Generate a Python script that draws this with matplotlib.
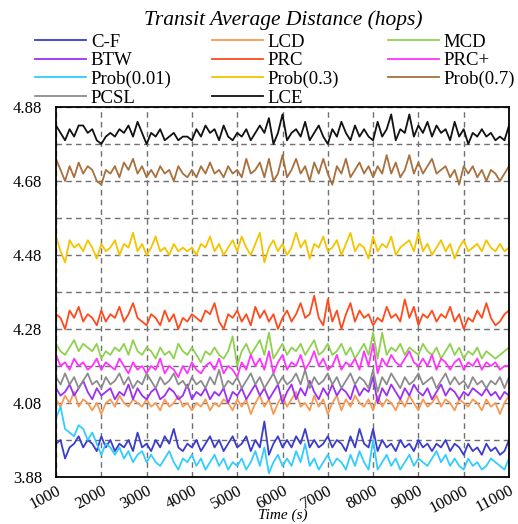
import numpy as np
import matplotlib
matplotlib.use("Agg")
import matplotlib.pyplot as plt

time_s = list(range(1000, 11001, 100))

cf = [3.97,3.98,3.93,3.96,3.97,3.99,3.96,3.98,3.97,3.95,3.99,
 3.96,3.98,3.95,3.97,3.96,3.98,3.95,4.00,3.96,3.97,
 3.95,3.98,3.96,3.99,3.97,4.01,3.96,3.95,3.97,3.96,
 3.98,3.95,3.97,3.99,3.96,3.98,3.95,3.97,3.99,3.96,
 3.97,3.99,3.95,3.98,3.96,4.03,3.94,3.97,3.99,3.96,
 3.98,3.96,3.99,3.97,4.01,3.96,3.98,3.96,3.97,3.99,
 3.96,3.98,3.97,3.95,3.99,3.96,4.01,3.97,3.96,4.01,
 3.95,3.98,3.96,3.97,3.95,3.98,3.96,3.97,3.95,3.98,
 3.96,3.97,3.95,3.97,3.96,3.98,3.95,3.97,3.96,3.94,
 3.97,3.95,3.96,3.94,3.97,3.95,3.96,3.94,3.95,3.98]

lcd = [4.09,4.07,4.10,4.08,4.11,4.07,4.09,4.08,4.06,4.08,4.05,
 4.08,4.09,4.07,4.10,4.08,4.07,4.09,4.08,4.07,4.09,
 4.07,4.08,4.06,4.09,4.07,4.08,4.10,4.07,4.08,4.06,
 4.08,4.07,4.09,4.06,4.08,4.07,4.09,4.08,4.06,4.09,
 4.07,4.09,4.05,4.08,4.10,4.07,4.09,4.05,4.08,4.10,
 4.07,4.09,4.11,4.07,4.08,4.06,4.10,4.07,4.09,4.05,
 4.08,4.10,4.06,4.09,4.07,4.10,4.08,4.07,4.09,4.06,
 4.10,4.07,4.09,4.08,4.06,4.09,4.07,4.10,4.08,4.06,
 4.09,4.07,4.08,4.10,4.07,4.09,4.08,4.06,4.09,4.08,
 4.07,4.09,4.08,4.06,4.09,4.07,4.08,4.05,4.08,4.10]

mcd = [4.24,4.22,4.21,4.23,4.25,4.22,4.24,4.23,4.22,4.24,4.20,
 4.22,4.21,4.23,4.22,4.24,4.21,4.25,4.22,4.21,4.23,
 4.22,4.20,4.23,4.21,4.22,4.20,4.24,4.22,4.21,4.23,
 4.21,4.19,4.22,4.21,4.23,4.21,4.20,4.22,4.26,4.18,
 4.22,4.24,4.21,4.23,4.25,4.21,4.27,4.20,4.22,4.24,
 4.21,4.23,4.22,4.24,4.21,4.23,4.25,4.21,4.22,4.24,
 4.21,4.22,4.24,4.21,4.23,4.20,4.22,4.24,4.21,4.27,
 4.20,4.27,4.21,4.23,4.22,4.24,4.21,4.23,4.22,4.21,
 4.24,4.22,4.21,4.23,4.20,4.22,4.24,4.21,4.23,4.20,
 4.22,4.21,4.23,4.20,4.22,4.21,4.20,4.21,4.22,4.23]

btw = [4.12,4.10,4.11,4.13,4.10,4.12,4.14,4.11,4.09,4.12,4.10,
 4.11,4.12,4.09,4.11,4.10,4.13,4.09,4.12,4.10,4.09,
 4.11,4.12,4.09,4.10,4.12,4.11,4.09,4.10,4.13,4.09,
 4.11,4.10,4.12,4.09,4.11,4.10,4.12,4.08,4.11,4.10,
 4.12,4.09,4.11,4.13,4.10,4.12,4.09,4.11,4.13,4.08,
 4.11,4.13,4.09,4.12,4.10,4.14,4.11,4.09,4.12,4.10,
 4.13,4.10,4.12,4.11,4.09,4.13,4.10,4.12,4.11,4.15,
 4.08,4.12,4.10,4.13,4.11,4.09,4.12,4.10,4.13,4.11,
 4.10,4.12,4.09,4.11,4.13,4.10,4.12,4.11,4.09,4.11,
 4.10,4.12,4.11,4.10,4.12,4.10,4.11,4.09,4.11,4.10]

prc = [4.32,4.31,4.28,4.33,4.31,4.34,4.30,4.32,4.31,4.29,4.33,
 4.30,4.32,4.31,4.34,4.30,4.32,4.35,4.31,4.30,4.29,
 4.32,4.31,4.29,4.33,4.30,4.32,4.28,4.31,4.30,4.32,
 4.31,4.30,4.33,4.32,4.35,4.30,4.28,4.32,4.31,4.33,
 4.30,4.32,4.29,4.34,4.31,4.33,4.30,4.32,4.28,4.31,
 4.33,4.30,4.32,4.35,4.31,4.32,4.37,4.31,4.29,4.36,
 4.30,4.33,4.28,4.32,4.35,4.30,4.33,4.31,4.32,4.29,
 4.31,4.30,4.34,4.31,4.32,4.30,4.36,4.31,4.34,4.29,
 4.32,4.31,4.33,4.30,4.32,4.31,4.34,4.30,4.32,4.28,
 4.31,4.30,4.33,4.31,4.35,4.31,4.29,4.30,4.32,4.33]

prc_plus = [4.21,4.18,4.19,4.17,4.20,4.18,4.19,4.17,4.18,4.20,4.17,
 4.19,4.18,4.17,4.20,4.18,4.16,4.19,4.17,4.18,4.16,
 4.18,4.17,4.20,4.16,4.18,4.17,4.15,4.18,4.16,4.19,
 4.17,4.16,4.18,4.19,4.17,4.20,4.16,4.18,4.17,4.15,
 4.19,4.17,4.21,4.18,4.20,4.17,4.22,4.16,4.19,4.21,
 4.17,4.19,4.18,4.21,4.17,4.19,4.22,4.18,4.20,4.17,
 4.18,4.21,4.17,4.19,4.18,4.20,4.17,4.22,4.18,4.24,
 4.16,4.20,4.18,4.21,4.19,4.18,4.20,4.22,4.19,4.18,
 4.20,4.18,4.21,4.17,4.20,4.19,4.17,4.19,4.20,4.17,
 4.19,4.18,4.20,4.17,4.19,4.18,4.19,4.17,4.18,4.18]

prob001 = [4.04,4.07,4.01,4.00,3.99,4.02,4.01,3.98,4.00,3.97,3.94,
 3.97,3.96,3.94,3.96,3.93,3.95,3.92,3.94,3.95,3.92,
 3.94,3.92,3.91,3.93,3.95,3.92,3.90,3.93,3.92,3.94,
 3.91,3.93,3.90,3.92,3.94,3.91,3.93,3.90,3.92,3.91,
 3.93,3.90,3.92,3.95,3.91,3.96,3.89,3.92,3.94,3.91,
 3.93,3.91,3.95,3.92,3.97,3.91,3.93,3.90,3.92,3.94,
 3.91,3.93,3.92,3.90,3.94,3.91,3.95,3.92,3.90,3.98,
 3.90,3.92,3.94,3.91,3.93,3.90,3.92,3.94,3.91,3.93,
 3.92,3.91,3.93,3.95,3.92,3.94,3.91,3.93,3.91,3.90,
 3.93,3.91,3.92,3.90,3.91,3.93,3.92,3.91,3.90,3.93]

prob03 = [4.53,4.49,4.46,4.52,4.50,4.51,4.49,4.52,4.50,4.47,4.51,
 4.49,4.50,4.52,4.48,4.51,4.50,4.54,4.49,4.51,4.48,
 4.50,4.53,4.49,4.50,4.48,4.51,4.49,4.50,4.49,4.50,
 4.48,4.51,4.50,4.53,4.49,4.51,4.48,4.50,4.52,4.49,
 4.53,4.50,4.48,4.51,4.54,4.46,4.50,4.52,4.49,4.51,
 4.48,4.50,4.54,4.50,4.52,4.47,4.51,4.50,4.53,4.49,
 4.50,4.52,4.48,4.51,4.54,4.49,4.51,4.50,4.47,4.53,
 4.49,4.51,4.50,4.53,4.48,4.50,4.51,4.52,4.49,4.54,
 4.49,4.51,4.48,4.50,4.52,4.49,4.51,4.47,4.50,4.52,
 4.49,4.50,4.51,4.49,4.52,4.50,4.49,4.51,4.49,4.50]

prob07 = [4.74,4.71,4.68,4.72,4.69,4.73,4.70,4.72,4.71,4.68,4.67,
 4.71,4.70,4.72,4.69,4.73,4.71,4.74,4.70,4.72,4.69,
 4.71,4.69,4.72,4.70,4.71,4.68,4.72,4.70,4.69,4.71,
 4.69,4.72,4.70,4.73,4.70,4.71,4.69,4.72,4.70,4.71,
 4.69,4.74,4.70,4.71,4.73,4.69,4.74,4.68,4.70,4.75,
 4.69,4.71,4.74,4.70,4.72,4.68,4.73,4.70,4.74,4.70,
 4.67,4.72,4.70,4.74,4.69,4.71,4.73,4.70,4.72,4.69,
 4.72,4.70,4.75,4.70,4.73,4.69,4.71,4.75,4.70,4.73,
 4.70,4.72,4.74,4.70,4.71,4.72,4.69,4.71,4.67,4.72,
 4.70,4.72,4.69,4.71,4.68,4.71,4.70,4.68,4.70,4.72]

pcsl = [4.15,4.13,4.16,4.13,4.15,4.12,4.14,4.16,4.13,4.14,4.12,
 4.15,4.13,4.14,4.16,4.13,4.15,4.12,4.14,4.13,4.16,
 4.14,4.12,4.15,4.13,4.14,4.16,4.13,4.14,4.12,4.15,
 4.13,4.14,4.12,4.15,4.13,4.17,4.12,4.14,4.13,4.15,
 4.12,4.14,4.16,4.13,4.15,4.12,4.14,4.16,4.13,4.15,
 4.13,4.14,4.16,4.13,4.17,4.12,4.15,4.13,4.14,4.16,
 4.13,4.15,4.12,4.14,4.16,4.13,4.15,4.14,4.12,4.17,
 4.11,4.15,4.13,4.16,4.14,4.12,4.15,4.13,4.14,4.16,
 4.13,4.14,4.15,4.12,4.14,4.16,4.13,4.15,4.13,4.14,
 4.12,4.15,4.13,4.14,4.12,4.14,4.13,4.15,4.12,4.15]

lce = [4.83,4.81,4.79,4.82,4.80,4.83,4.83,4.81,4.82,4.79,4.78,
 4.80,4.81,4.80,4.82,4.81,4.83,4.80,4.84,4.81,4.78,
 4.81,4.80,4.82,4.79,4.80,4.81,4.79,4.80,4.80,4.79,
 4.82,4.80,4.83,4.81,4.82,4.79,4.83,4.80,4.79,4.81,
 4.80,4.82,4.79,4.81,4.83,4.81,4.85,4.78,4.81,4.86,
 4.79,4.81,4.82,4.80,4.84,4.79,4.81,4.83,4.80,4.78,
 4.82,4.80,4.84,4.81,4.79,4.83,4.80,4.82,4.80,4.79,
 4.84,4.80,4.82,4.86,4.79,4.82,4.81,4.86,4.80,4.83,
 4.81,4.84,4.80,4.83,4.81,4.82,4.79,4.84,4.80,4.82,
 4.78,4.81,4.80,4.82,4.80,4.81,4.79,4.80,4.79,4.83]

series_names = ["C-F", "LCD", "MCD", "BTW", "PRC", "PRC+",
                "Prob(0.01)", "Prob(0.3)", "Prob(0.7)", "PCSL", "LCE"]
series_values = [cf, lcd, mcd, btw, prc, prc_plus, prob001, prob03, prob07, pcsl, lce]
series_colors = ["#3b3bcc", "#f79a55", "#8fd14f", "#9b30f5", "#ff4a1c", "#ff33ff",
                 "#33ccff", "#f5c400", "#a8703c", "#8c8c8c", "#111111"]

xticks = list(range(1000, 11001, 1000))
xtick_labels = [str(v) for v in xticks]
yticks = [3.88, 3.98, 4.08, 4.18, 4.28, 4.38, 4.48, 4.58, 4.68, 4.78, 4.88]
ytick_labels = ["3.88", "", "4.08", "", "4.28", "", "4.48", "", "4.68", "", "4.88"]

plt.rcParams["font.family"] = ["Liberation Serif", "DejaVu Serif"]

fig = plt.figure(figsize=(5.18, 5.24), dpi=100)
ax = fig.add_axes([56/518, 1 - 477/524, (509-56)/518, (477-107)/524])

handles = []
for name, vals, col in zip(series_names, series_values, series_colors):
    h, = ax.plot(time_s, vals, color=col, lw=1.3, label=name)
    handles.append(h)

ax.set_xlim(1000, 11000)
ax.set_ylim(3.88, 4.88)
ax.set_xticks(xticks)
ax.set_xticklabels(xtick_labels, rotation=28, ha="right", va="top",
                   rotation_mode="anchor", fontsize=12)
ax.set_yticks(yticks)
ax.set_yticklabels(ytick_labels, fontsize=12)
ax.tick_params(axis="both", length=0)
ax.tick_params(axis="y", pad=10)
ax.tick_params(axis="x", pad=4)
ax.grid(True, color="#707070", linestyle=(0, (4, 3)), linewidth=1.0)
for s in ax.spines.values():
    s.set_linewidth(1.3)
    s.set_color("black")

fig.text(283/518, 1 - 515/524, "Time (s)", ha="center", va="center",
         fontsize=11, style="italic")
fig.text(283/518, 1 - 20/524, "Transit Average Distance (hops)", ha="center",
         va="center", fontsize=15.5, style="italic")

# legend laid out row-wise in three columns
col_x = [35, 212, 388]
for c in range(3):
    idx = list(range(c, len(handles), 3))
    leg = fig.legend([handles[i] for i in idx], [series_names[i] for i in idx],
                     loc="upper left", bbox_to_anchor=(col_x[c]/518, 1 - 33.5/524),
                     frameon=False, fontsize=13.5, handlelength=2.7,
                     handletextpad=0.28, labelspacing=0.08,
                     borderpad=0, borderaxespad=0)

fig.savefig("out.png", dpi=100)
